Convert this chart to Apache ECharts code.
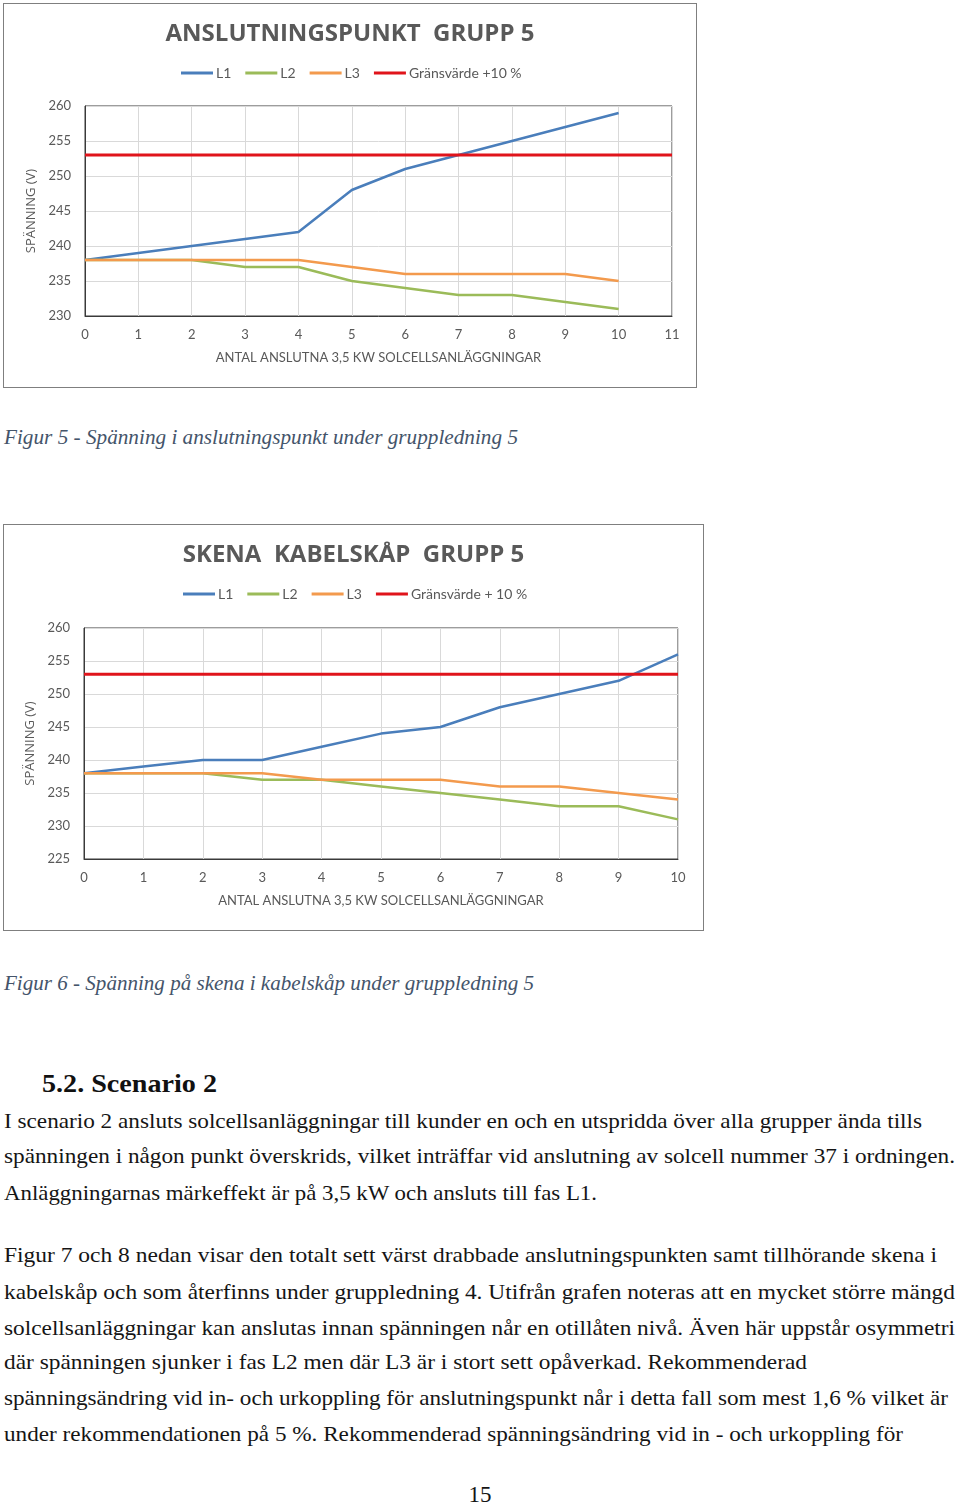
<!DOCTYPE html>
<html><head><meta charset="utf-8">
<script src="https://cdn.jsdelivr.net/npm/echarts@6/dist/echarts.min.js"></script>
<style>
body{margin:0;background:#fff;width:960px;height:1508px;position:relative;overflow:hidden}
.box{position:absolute;border:1px solid #7f7f7f;box-sizing:border-box;background:#fff}
.t{position:absolute;left:4px;white-space:nowrap;font-family:"Liberation Serif",serif;font-size:21px;line-height:28px;color:#151515;transform-origin:0 50%}
.cap{font-style:italic;color:#44546A;font-size:20px}
.h{font-weight:bold;font-size:25px;color:#111}
</style></head>
<body>
<div id="c1" class="box" style="left:3px;top:3px;width:694px;height:385px"></div>
<div id="c2" class="box" style="left:3px;top:524px;width:701px;height:407px"></div>

<div class="t cap" data-w="514" style="top:423px">Figur 5 - Spänning i anslutningspunkt under gruppledning 5</div>
<div class="t cap" data-w="530" style="top:969px">Figur 6 - Spänning på skena i kabelskåp under gruppledning 5</div>
<div class="t h" data-w="175" style="left:42px;top:1070px">5.2. Scenario 2</div>
<div class="t" data-w="918" style="top:1107px">I scenario 2 ansluts solcellsanläggningar till kunder en och en utspridda över alla grupper ända tills</div>
<div class="t" data-w="951" style="top:1142px">spänningen i någon punkt överskrids, vilket inträffar vid anslutning av solcell nummer 37 i ordningen.</div>
<div class="t" data-w="593" style="top:1179px">Anläggningarnas märkeffekt är på 3,5 kW och ansluts till fas L1.</div>
<div class="t" data-w="933" style="top:1241px">Figur 7 och 8 nedan visar den totalt sett värst drabbade anslutningspunkten samt tillhörande skena i</div>
<div class="t" data-w="951" style="top:1278px">kabelskåp och som återfinns under gruppledning 4. Utifrån grafen noteras att en mycket större mängd</div>
<div class="t" data-w="951" style="top:1314px">solcellsanläggningar kan anslutas innan spänningen når en otillåten nivå. Även här uppstår osymmetri</div>
<div class="t" data-w="803" style="top:1348px">där spänningen sjunker i fas L2 men där L3 är i stort sett opåverkad. Rekommenderad</div>
<div class="t" data-w="944" style="top:1384px">spänningsändring vid in- och urkoppling för anslutningspunkt når i detta fall som mest 1,6 % vilket är</div>
<div class="t" data-w="899" style="top:1420px">under rekommendationen på 5 %. Rekommenderad spänningsändring vid in - och urkoppling för</div>
<div class="t" style="left:0;width:960px;text-align:center;top:1481px;font-size:23px">15</div>

<script>
// ---- data ----
const xValues = [0, 1, 2, 3, 4, 5, 6, 7, 8, 9, 10];
const seriesNames1 = ['L1', 'L2', 'L3', 'Gränsvärde +10 %'];
const seriesNames2 = ['L1', 'L2', 'L3', 'Gränsvärde + 10 %'];

// Figur 5 - Anslutningspunkt grupp 5
const l1A = [238, 239, 240, 241, 242, 248, 251, 253, 255, 257, 259];
const l2A = [238, 238, 238, 237, 237, 235, 234, 233, 233, 232, 231];
const l3A = [238, 238, 238, 238, 238, 237, 236, 236, 236, 236, 235];
const limitXA = [0, 11];
const limitYA = [253, 253];

// Figur 6 - Skena kabelskåp grupp 5
const l1B = [238, 239, 240, 240, 242, 244, 245, 248, 250, 252, 256];
const l2B = [238, 238, 238, 237, 237, 236, 235, 234, 233, 233, 231];
const l3B = [238, 238, 238, 238, 237, 237, 237, 236, 236, 235, 234];
const limitXB = [0, 10];
const limitYB = [253, 253];

const colors = ['#4A7EBB', '#9BBB59', '#F39A4D', '#E0141B'];
const txt = '#595959';
const font = 'Lato';

function pairs(xs, ys) { return xs.map((x, i) => [x, ys[i]]); }

function build(el, cfg) {
  const chart = echarts.init(el, null, {renderer: 'canvas'});
  const mk = (name, data, i, w) => ({
    name, type: 'line', data, symbol: 'none', smooth: false,
    lineStyle: {color: colors[i], width: w}, itemStyle: {color: colors[i]}
  });
  chart.setOption({
    animation: false,
    color: colors,
    title: {text: cfg.title, left: 'center', top: 13,
      textStyle: {fontFamily: 'Open Sans', fontSize: 24, fontWeight: 'bold', color: txt}},
    legend: {left: cfg.legendLeft, top: 62, padding: 0, icon: 'rect', itemWidth: 32, itemHeight: 3, itemGap: 14,
      textStyle: {fontFamily: font, fontSize: 14, color: txt, padding: [0, 0, 0, -2]},
      data: cfg.names},
    grid: {left: cfg.grid[0], right: cfg.grid[1], top: cfg.grid[2], bottom: cfg.grid[3],
      show: true, borderColor: '#3a3a3a', borderWidth: 1, backgroundColor: '#fff'},
    xAxis: {type: 'value', min: 0, max: cfg.xMax, interval: 1,
      name: 'ANTAL ANSLUTNA 3,5 KW SOLCELLSANLÄGGNINGAR', nameLocation: 'middle', nameGap: 35,
      nameTextStyle: {fontFamily: font, fontSize: 13, color: txt},
      axisLine: {show: true, lineStyle: {color: '#3a3a3a'}}, axisTick: {show: false},
      axisLabel: {fontFamily: font, fontSize: 13, color: txt, margin: 12},
      splitLine: {show: true, lineStyle: {color: '#D9D9D9'}}},
    yAxis: {type: 'value', min: cfg.yMin, max: 260, interval: 5,
      name: 'SPÄNNING (V)', nameLocation: 'middle', nameGap: 42,
      nameTextStyle: {fontFamily: 'Open Sans', fontSize: 13, color: txt},
      axisLine: {show: true, lineStyle: {color: '#3a3a3a'}}, axisTick: {show: false},
      axisLabel: {fontFamily: font, fontSize: 13, color: txt, margin: 14},
      splitLine: {show: true, lineStyle: {color: '#D9D9D9'}}},
    series: [
      mk(cfg.names[0], pairs(xValues, cfg.l1), 0, 2.5),
      mk(cfg.names[1], pairs(xValues, cfg.l2), 1, 2.5),
      mk(cfg.names[2], pairs(xValues, cfg.l3), 2, 2.5),
      mk(cfg.names[3], pairs(cfg.limX, cfg.limY), 3, 3)
    ]
  });
}

build(document.getElementById('c1'), {
  title: 'ANSLUTNINGSPUNKT  GRUPP 5', names: seriesNames1, legendLeft: 177,
  grid: [81, 24, 102, 71], xMax: 11, yMin: 230,
  l1: l1A, l2: l2A, l3: l3A, limX: limitXA, limY: limitYA
});
build(document.getElementById('c2'), {
  title: 'SKENA  KABELSKÅP  GRUPP 5', names: seriesNames2, legendLeft: 179,
  grid: [80, 25, 103, 71], xMax: 10, yMin: 225,
  l1: l1B, l2: l2B, l3: l3B, limX: limitXB, limY: limitYB
});

// fit text lines to their measured widths in the reference
document.querySelectorAll('.t[data-w]').forEach(el => {
  const w = el.getBoundingClientRect().width;
  const target = parseFloat(el.dataset.w);
  if (w > 0) el.style.transform = 'scaleX(' + (target / w) + ')';
});
</script>
</body></html>
